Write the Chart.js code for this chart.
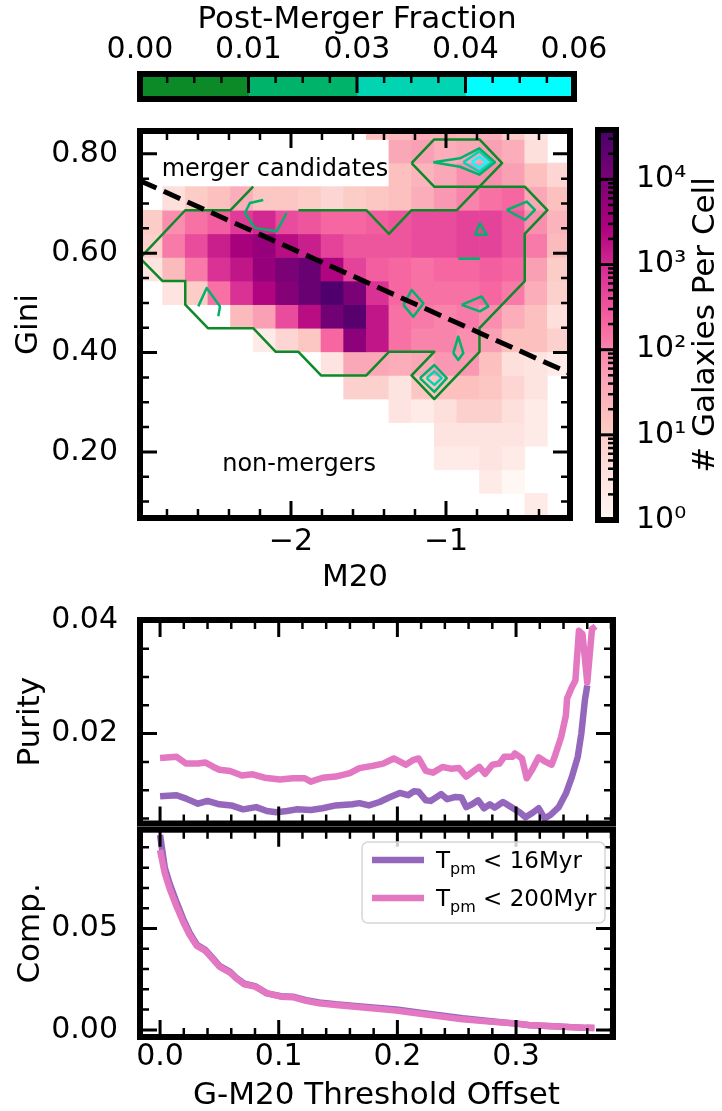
<!DOCTYPE html>
<html>
<head>
<meta charset="utf-8">
<script src="https://cdn.jsdelivr.net/npm/chart.js@4.4.1/dist/chart.umd.min.js"></script>
<style>
  body { margin: 0; background: #fff; }
  #fig { position: relative; width: 722px; height: 1111px; }
  #fig canvas { position: absolute; left: 0; top: 0; }
</style>
</head>
<body>
<div id="fig">
  <canvas id="fracBar" width="722" height="1111"></canvas>
  <canvas id="hist" width="722" height="1111"></canvas>
  <canvas id="countBar" width="722" height="1111"></canvas>
  <canvas id="purity" width="722" height="1111"></canvas>
  <canvas id="comp" width="722" height="1111"></canvas>
</div>
<script>
// ---------- data ----------
// post-merger fraction colour levels (top colourbar / contour levels)
const fracEdges = [0, 0.015, 0.03, 0.045, 0.06];
const fracColors = ['#0b8a27', '#00b36a', '#00d4b2', '#00ffff'];
const fracTicks = [0, 0.015, 0.03, 0.045, 0.06];
const fracTickLabels = ['0.00', '0.01', '0.03', '0.04', '0.06'];

// 2d histogram bins
const m20Edges = [-2.974, -2.828, -2.682, -2.536, -2.390, -2.244, -2.098, -1.952, -1.806, -1.660,
  -1.514, -1.368, -1.222, -1.076, -0.930, -0.784, -0.638, -0.492, -0.346, -0.200];
const giniEdges = [0.069, 0.1165, 0.164, 0.2115, 0.259, 0.3065, 0.354, 0.4015, 0.449, 0.4965,
  0.544, 0.5915, 0.639, 0.6865, 0.734, 0.7815, 0.829, 0.8765];
// galaxies per cell, rows from the top (high Gini) down
const counts = [
  [0, 0, 0, 0, 0, 0, 0, 0, 0, 0, 16, 20, 32, 32, 25, 32, 10, 3, 0],
  [0, 0, 0, 0, 0, 0, 0, 0, 0, 0, 0, 40, 50, 32, 40, 50, 32, 4, 0],
  [0, 0, 0, 0, 0, 0, 0, 0, 0, 0, 0, 16, 25, 40, 79, 79, 50, 16, 6],
  [0, 4, 10, 16, 32, 13, 13, 10, 6, 10, 13, 16, 32, 63, 100, 158, 200, 40, 16],
  [10, 79, 158, 251, 631, 1000, 398, 316, 200, 200, 251, 316, 398, 398, 501, 501, 316, 79, 25],
  [8, 126, 398, 1259, 3162, 5012, 1995, 1259, 501, 316, 316, 316, 398, 398, 501, 501, 316, 126, 20],
  [3, 20, 126, 794, 1585, 5012, 10000, 15849, 2512, 501, 251, 200, 158, 200, 200, 251, 200, 50, 10],
  [0, 3, 10, 158, 794, 2512, 7943, 15849, 31623, 10000, 794, 200, 158, 158, 158, 200, 126, 32, 8],
  [0, 0, 0, 0, 20, 50, 398, 1995, 12589, 25119, 1585, 158, 126, 100, 126, 79, 32, 16, 4],
  [0, 0, 0, 0, 0, 2, 6, 13, 200, 6310, 1585, 158, 100, 100, 79, 50, 16, 16, 8],
  [0, 0, 0, 0, 0, 0, 0, 0, 3, 40, 40, 32, 40, 63, 63, 16, 4, 3, 2],
  [0, 0, 0, 0, 0, 0, 0, 0, 0, 8, 8, 3, 13, 16, 16, 13, 6, 3, 0],
  [0, 0, 0, 0, 0, 0, 0, 0, 0, 0, 0, 3, 2, 4, 8, 8, 4, 2, 0],
  [0, 0, 0, 0, 0, 0, 0, 0, 0, 0, 0, 0, 0, 3, 3, 3, 3, 2, 0],
  [0, 0, 0, 0, 0, 0, 0, 0, 0, 0, 0, 0, 0, 2, 2, 3, 2, 0, 0],
  [0, 0, 0, 0, 0, 0, 0, 0, 0, 0, 0, 0, 0, 0, 0, 2, 1, 0, 0],
  [0, 0, 0, 0, 0, 0, 0, 0, 0, 0, 0, 0, 0, 0, 0, 0, 0, 2, 0]
];
const countMax = 38000;

// post-merger fraction contours [M20, Gini], by level
const contourLow = [
  [[-2.244, 0.734], [-2.390, 0.6865], [-2.682, 0.6865], [-2.974, 0.590], [-2.828, 0.544], [-2.682, 0.544],
   [-2.682, 0.4965], [-2.536, 0.449], [-2.244, 0.449], [-2.098, 0.4015], [-1.952, 0.4015], [-1.806, 0.354],
   [-1.514, 0.354], [-1.368, 0.4015], [-1.076, 0.4015], [-1.222, 0.354], [-1.076, 0.3065], [-0.784, 0.4015],
   [-0.784, 0.449], [-0.492, 0.544], [-0.492, 0.639], [-0.346, 0.6865], [-0.492, 0.734], [-0.784, 0.734],
   [-0.930, 0.6865], [-1.222, 0.6865], [-1.368, 0.639], [-1.514, 0.6865], [-1.952, 0.6865]],
  [[-1.222, 0.7815], [-1.076, 0.829], [-0.784, 0.829], [-0.638, 0.7815], [-0.784, 0.734], [-1.076, 0.734], [-1.222, 0.7815]]
];
const contourMid = [
  [[-1.082, 0.783], [-0.910, 0.791], [-0.785, 0.811], [-0.684, 0.783], [-0.785, 0.758], [-0.910, 0.774], [-1.082, 0.783]],
  [[-2.179, 0.707], [-2.265, 0.701], [-2.297, 0.681], [-2.232, 0.651], [-2.092, 0.644], [-2.028, 0.681]],
  [[-0.608, 0.687], [-0.479, 0.704], [-0.426, 0.687], [-0.490, 0.667], [-0.608, 0.687]],
  [[-0.813, 0.637], [-0.781, 0.660], [-0.737, 0.637], [-0.813, 0.637]],
  [[-0.921, 0.589], [-0.781, 0.589]],
  [[-1.275, 0.496], [-1.221, 0.526], [-1.146, 0.499], [-1.211, 0.472], [-1.275, 0.496]],
  [[-0.899, 0.496], [-0.770, 0.513], [-0.727, 0.493], [-0.781, 0.483], [-0.899, 0.496]],
  [[-0.953, 0.399], [-0.921, 0.432], [-0.888, 0.399], [-0.921, 0.385], [-0.953, 0.399]],
  [[-2.598, 0.493], [-2.544, 0.530], [-2.458, 0.493], [-2.469, 0.473]],
  [[-1.168, 0.3485], [-1.075, 0.375], [-0.995, 0.3485], [-1.075, 0.321], [-1.168, 0.3485]]
];
const contourHigh = [
  [[-0.888, 0.783], [-0.785, 0.805], [-0.705, 0.783], [-0.785, 0.764], [-0.888, 0.783]],
  [[-1.125, 0.3485], [-1.075, 0.362], [-1.028, 0.3485], [-1.075, 0.335], [-1.125, 0.3485]]
];
const contourTop = [
  [[-0.834, 0.783], [-0.785, 0.794], [-0.737, 0.783], [-0.785, 0.772], [-0.834, 0.783]]
];
// G-M20 merger line end points
const mergerLine = [[-2.974, 0.746], [-0.200, 0.358]];

const m20Ticks = [-2, -1];
const m20TickLabels = ['\u22122', '\u22121'];
const giniTicks = [0.2, 0.4, 0.6, 0.8];
const giniTickLabels = ['0.20', '0.40', '0.60', '0.80'];
const countTicks = [1, 10, 100, 1000, 10000];
const countTickLabels = ['10\u2070', '10\u00b9', '10\u00b2', '10\u00b3', '10\u2074'];

// purity / completeness vs threshold offset
const purity16X = [0.000, 0.014, 0.022, 0.032, 0.040, 0.050, 0.060, 0.070, 0.081, 0.090, 0.098, 0.107, 0.115,
  0.127, 0.137, 0.148, 0.162, 0.168, 0.176, 0.185, 0.193, 0.202, 0.209, 0.214, 0.218, 0.224, 0.228, 0.237,
  0.242, 0.249, 0.254, 0.258, 0.263, 0.268, 0.273, 0.278, 0.282, 0.289, 0.296, 0.303, 0.308, 0.314, 0.319,
  0.324, 0.329, 0.336, 0.342, 0.347, 0.352, 0.355, 0.358, 0.360];
const purity16 = [0.0089, 0.0091, 0.0085, 0.0076, 0.0081, 0.0075, 0.0073, 0.0066, 0.0070, 0.0063, 0.0061, 0.0063,
  0.0066, 0.0065, 0.0068, 0.0073, 0.0075, 0.0077, 0.0073, 0.0079, 0.0087, 0.0095, 0.0091, 0.0098, 0.0097,
  0.0082, 0.0081, 0.0093, 0.0084, 0.0088, 0.0087, 0.0070, 0.0075, 0.0082, 0.0068, 0.0075, 0.0069, 0.0079,
  0.0070, 0.0061, 0.0052, 0.0060, 0.0068, 0.0050, 0.0056, 0.0070, 0.0094, 0.0123, 0.0159, 0.0200, 0.0259, 0.0285];
const purity200X = [0.000, 0.014, 0.022, 0.032, 0.038, 0.045, 0.050, 0.059, 0.069, 0.078, 0.088, 0.101, 0.112,
  0.122, 0.127, 0.137, 0.148, 0.160, 0.168, 0.179, 0.188, 0.197, 0.207, 0.213, 0.218, 0.224, 0.230, 0.238,
  0.245, 0.252, 0.258, 0.263, 0.269, 0.274, 0.280, 0.286, 0.290, 0.297, 0.299, 0.305, 0.309, 0.314, 0.319,
  0.325, 0.330, 0.333, 0.338, 0.342, 0.343, 0.347, 0.350, 0.353, 0.356, 0.360, 0.364, 0.367];
const purity200 = [0.0157, 0.0159, 0.0147, 0.0147, 0.0149, 0.0141, 0.0136, 0.0134, 0.0126, 0.0128, 0.0122, 0.0119,
  0.0121, 0.0121, 0.0115, 0.0122, 0.0124, 0.0130, 0.0139, 0.0143, 0.0147, 0.0156, 0.0145, 0.0153, 0.0156,
  0.0134, 0.0131, 0.0141, 0.0138, 0.0139, 0.0124, 0.0132, 0.0141, 0.0129, 0.0145, 0.0147, 0.0159, 0.0159,
  0.0165, 0.0156, 0.0121, 0.0138, 0.0158, 0.0150, 0.0145, 0.0162, 0.0194, 0.0232, 0.0262, 0.0282, 0.0294,
  0.0382, 0.0376, 0.0290, 0.0385, 0.0390];
const comp16X = [0.000, 0.004, 0.008, 0.014, 0.020, 0.025, 0.031, 0.038, 0.045, 0.050, 0.059, 0.064, 0.071,
  0.080, 0.090, 0.102, 0.112, 0.123, 0.134, 0.148, 0.162, 0.199, 0.224, 0.255, 0.275, 0.300, 0.311, 0.331,
  0.359, 0.366];
const comp16 = [0.0961, 0.0800, 0.0722, 0.0628, 0.0540, 0.0478, 0.0420, 0.0395, 0.0350, 0.0316, 0.0286, 0.0258,
  0.0228, 0.0216, 0.0180, 0.0166, 0.0164, 0.0147, 0.0135, 0.0126, 0.0119, 0.0101, 0.0081, 0.0057, 0.0045,
  0.0031, 0.0023, 0.0018, 0.0010, 0.0009];
const comp200X = [0.000, 0.004, 0.008, 0.014, 0.020, 0.025, 0.031, 0.038, 0.045, 0.050, 0.059, 0.064, 0.071,
  0.080, 0.090, 0.102, 0.112, 0.123, 0.134, 0.148, 0.162, 0.199, 0.224, 0.255, 0.275, 0.300, 0.311, 0.331,
  0.359, 0.366];
const comp200 = [0.0887, 0.0772, 0.0698, 0.0607, 0.0526, 0.0468, 0.0414, 0.0391, 0.0345, 0.0312, 0.0282, 0.0255,
  0.0225, 0.0213, 0.0181, 0.0164, 0.0161, 0.0143, 0.0131, 0.0123, 0.0115, 0.0095, 0.0076, 0.0052, 0.0042,
  0.0032, 0.0024, 0.0018, 0.0010, 0.0009];
const seriesNames = ['16Myr', '200Myr'];

const offsetTicks = [0, 0.1, 0.2, 0.3];
const offsetTickLabels = ['0.0', '0.1', '0.2', '0.3'];
const purityTicks = [0.02, 0.04];
const purityTickLabels = ['0.02', '0.04'];
const compTicks = [0, 0.05];
const compTickLabels = ['0.00', '0.05'];

// ---------- helpers ----------
const purple = '#9467bd', pink = '#e377c2';
const FONT = 'DejaVu Sans';
const tickFont = { family: FONT, size: 30, lineHeight: 1 };
const labelFont = { family: FONT, size: 31, lineHeight: 1 };
Chart.defaults.font.family = FONT;
Chart.defaults.color = '#000';

const rdpu = ['#fff7f3', '#fde0dd', '#fcc5c0', '#fa9fb5', '#f768a1', '#dd3497', '#ae017e', '#7a0177', '#49006a']
  .map(h => [1, 3, 5].map(i => parseInt(h.substr(i, 2), 16)));
function cmap(t) {
  t = Math.min(1, Math.max(0, t)) * (rdpu.length - 1);
  const i = Math.min(rdpu.length - 2, Math.floor(t)), f = t - i;
  const c = rdpu[i].map((v, k) => Math.round(v + (rdpu[i + 1][k] - v) * f));
  return `rgb(${c[0]},${c[1]},${c[2]})`;
}
const countColor = n => cmap(Math.log10(n) / Math.log10(countMax));

function range(a, b, step, skip) {
  const out = [];
  for (let v = a; v <= b + 1e-9; v += step) {
    const r = Math.round(v * 1e6) / 1e6;
    if (!skip || !skip.some(s => Math.abs(s - r) < 1e-9)) out.push(r);
  }
  return out;
}

function axis(o) {
  const cfg = {
    type: o.type || 'linear',
    position: o.position,
    min: o.min, max: o.max,
    offset: false,
    grid: { display: false, drawTicks: false },
    border: { display: false },
    afterBuildTicks: s => { s.ticks = o.values.map(v => ({ value: v })); },
    ticks: { autoSkip: false, maxRotation: 0, minRotation: 0, font: tickFont, color: '#000',
      padding: o.pad, callback: (v, i) => o.labels[i] }
  };
  if (o.fit) cfg.afterFit = s => { if (s.isHorizontal()) s.height = o.fit; else s.width = o.fit; };
  if (o.title) cfg.title = { display: true, text: o.title, font: labelFont, color: '#000', padding: o.titlePad };
  return cfg;
}

// matplotlib-like frame with inward ticks
const framePlugin = {
  id: 'frame',
  afterDatasetsDraw(chart, args, o) {
    if (!o || !o.show) return;
    const { ctx, chartArea: a } = chart;
    ctx.save();
    ctx.strokeStyle = '#000';
    ctx.lineCap = 'butt';
    const marks = (scale, spec) => {
      if (!spec) return;
      [['major', spec.majorLen || 17, 3], ['minor', spec.minorLen || 9, 2.5]].forEach(([k, len, w]) => {
        ctx.lineWidth = w;
        (spec[k] || []).forEach(v => {
          const p = scale.getPixelForValue(v);
          ctx.beginPath();
          spec.sides.forEach(s => {
            if (s === 'bottom') { ctx.moveTo(p, a.bottom); ctx.lineTo(p, a.bottom - len); }
            if (s === 'top') { ctx.moveTo(p, a.top); ctx.lineTo(p, a.top + len); }
            if (s === 'left') { ctx.moveTo(a.left, p); ctx.lineTo(a.left + len, p); }
            if (s === 'right') { ctx.moveTo(a.right, p); ctx.lineTo(a.right - len, p); }
          });
          ctx.stroke();
        });
      });
    };
    marks(chart.scales.x, o.x);
    marks(chart.scales.y, o.y);
    ctx.lineWidth = 6;
    ctx.strokeRect(a.left, a.top, a.right - a.left, a.bottom - a.top);
    ctx.restore();
  }
};

// free text (annotations, colourbar label)
const notesPlugin = {
  id: 'notes',
  afterDraw(chart, args, o) {
    if (!o || !o.items) return;
    const ctx = chart.ctx;
    o.items.forEach(it => {
      const p = it.data
        ? [chart.scales.x.getPixelForValue(it.data[0]), chart.scales.y.getPixelForValue(it.data[1])]
        : it.px;
      ctx.save();
      ctx.translate(p[0], p[1]);
      if (it.rotate) ctx.rotate(it.rotate);
      ctx.font = it.font;
      ctx.fillStyle = '#000';
      ctx.textAlign = 'center';
      ctx.textBaseline = 'middle';
      ctx.fillText(it.text, 0, 0);
      ctx.restore();
    });
  }
};

// legend with subscripts
const keyPlugin = {
  id: 'key',
  afterDraw(chart, args, o) {
    if (!o || !o.box) return;
    const ctx = chart.ctx;
    const [bx, by, bw, bh] = o.box;
    ctx.save();
    ctx.beginPath();
    ctx.roundRect(bx, by, bw, bh, 6);
    ctx.fillStyle = 'rgba(255,255,255,0.8)';
    ctx.fill();
    ctx.strokeStyle = '#d6d6d6';
    ctx.lineWidth = 1.5;
    ctx.stroke();
    o.entries.forEach((e, i) => {
      const ds = chart.data.datasets[e.dataset];
      const y = by + o.first + i * o.step;
      ctx.strokeStyle = ds.borderColor;
      ctx.lineWidth = ds.borderWidth;
      ctx.beginPath();
      ctx.moveTo(bx + o.handle[0], y);
      ctx.lineTo(bx + o.handle[1], y);
      ctx.stroke();
      ctx.fillStyle = '#000';
      ctx.textBaseline = 'alphabetic';
      let x = bx + o.textX;
      const base = y + o.base;
      ctx.font = o.font;
      ctx.fillText('T', x, base);
      x += ctx.measureText('T').width;
      ctx.font = o.subFont;
      ctx.fillText('pm', x, base + o.subShift);
      x += ctx.measureText('pm').width;
      ctx.font = o.font;
      ctx.fillText(' < ' + e.text, x, base);
    });
    ctx.restore();
  }
};
Chart.register(framePlugin, notesPlugin, keyPlugin);

const common = { responsive: false, devicePixelRatio: 1, animation: false };
const quiet = { legend: { display: false }, tooltip: { enabled: false } };

// ---------- top colourbar: post-merger fraction ----------
new Chart(document.getElementById('fracBar'), {
  type: 'bar',
  data: {
    labels: ['f'],
    datasets: fracColors.map((c, i) => ({
      data: [[fracEdges[i], fracEdges[i + 1]]], backgroundColor: c, borderWidth: 0,
      barPercentage: 1, categoryPercentage: 1, grouped: false
    }))
  },
  options: {
    ...common,
    indexAxis: 'y',
    layout: { padding: { left: 140, top: 0, right: 148, bottom: 1012 } },
    plugins: {
      ...quiet,
      frame: { show: true, x: { sides: ['top'], major: fracTicks, minor: range(0, 0.06, 0.00375, fracTicks), majorLen: 19, minorLen: 9 } }
    },
    scales: {
      x: axis({ position: 'top', min: 0, max: 0.06, values: fracTicks, labels: fracTickLabels, pad: 9, fit: 74,
        title: 'Post-Merger Fraction', titlePad: { top: 4.5, bottom: 0 } }),
      y: { display: false }
    }
  }
});

// ---------- 2d histogram with contours ----------
const cellSets = counts.map((row, r) => {
  const j = counts.length - 1 - r;
  const pts = [], cols = [];
  row.forEach((n, c) => {
    if (!n) return;
    pts.push({ x: (m20Edges[c] + m20Edges[c + 1]) / 2, y: [giniEdges[j], giniEdges[j + 1]] });
    cols.push(countColor(n));
  });
  return { type: 'bar', data: pts, backgroundColor: cols, borderWidth: 0,
    barPercentage: 1, categoryPercentage: 1, grouped: false, order: 3 };
});
const lineSet = (pts, color, width, order, dash) => ({
  type: 'line', data: pts.map(p => ({ x: p[0], y: p[1] })), borderColor: color, borderWidth: width,
  borderDash: dash || [], pointRadius: 0, fill: false, tension: 0, order,
  borderJoinStyle: 'round', borderCapStyle: 'butt'
});
const contourSets = [
  ...contourLow.map(c => lineSet(c, fracColors[0], 2.5, 2)),
  ...contourMid.map(c => lineSet(c, fracColors[1], 2.5, 2)),
  ...contourHigh.map(c => lineSet(c, fracColors[2], 2.5, 2)),
  ...contourTop.map(c => lineSet(c, fracColors[3], 2.5, 2))
];

new Chart(document.getElementById('hist'), {
  type: 'bar',
  data: { datasets: [...cellSets, ...contourSets, lineSet(mergerLine, '#000', 5, 1, [18, 8])] },
  options: {
    ...common,
    layout: { padding: { left: 0, top: 131, right: 152, bottom: 513 } },
    plugins: {
      ...quiet,
      frame: {
        show: true,
        x: { sides: ['bottom', 'top'], major: m20Ticks, minor: range(-2.8, -0.2, 0.2, m20Ticks) },
        y: { sides: ['left', 'right'], major: giniTicks, minor: range(0.1, 0.8, 0.05, giniTicks) }
      },
      notes: { items: [
        { text: 'merger candidates', data: [-2.103, 0.768], font: `24px ${FONT}` },
        { text: 'non-mergers', data: [-1.948, 0.174], font: `24px ${FONT}` }
      ] }
    },
    scales: {
      x: axis({ position: 'bottom', min: m20Edges[0], max: m20Edges[m20Edges.length - 1], values: m20Ticks,
        labels: m20TickLabels, pad: 9, fit: 80, title: 'M20', titlePad: { top: 0, bottom: 5 } }),
      y: { ...axis({ position: 'left', min: 0.067, max: 0.846, values: giniTicks, labels: giniTickLabels,
        pad: 22, fit: 140, title: 'Gini', titlePad: { top: 13.5, bottom: 0 } }), beginAtZero: false }
    }
  }
});

// ---------- right colourbar: galaxies per cell ----------
new Chart(document.getElementById('countBar'), {
  type: 'bar',
  data: {
    labels: ['n'],
    datasets: [{
      data: [[1, countMax]], borderWidth: 0, barPercentage: 1, categoryPercentage: 1,
      backgroundColor: ctx => {
        const ch = ctx.chart;
        if (!ch.chartArea) return '#fff';
        const y = ch.scales.y;
        const g = ch.ctx.createLinearGradient(0, y.getPixelForValue(1), 0, y.getPixelForValue(countMax));
        for (let i = 0; i <= 40; i++) g.addColorStop(i / 40, cmap(i / 40));
        return g;
      }
    }]
  },
  options: {
    ...common,
    layout: { padding: { left: 598, top: 130, right: 6, bottom: 591 } },
    plugins: {
      ...quiet,
      frame: { show: true, y: { sides: ['right'], major: countTicks, majorLen: 20, minorLen: 8,
        minor: [0, 1, 2, 3, 4].flatMap(e => [2, 3, 4, 5, 6, 7, 8, 9].map(k => k * Math.pow(10, e))).filter(v => v < countMax) } },
      notes: { items: [{ text: '# Galaxies Per Cell', px: [706, 325], rotate: -Math.PI / 2, font: `31px ${FONT}` }] }
    },
    scales: {
      x: { display: false },
      y: axis({ type: 'logarithmic', position: 'right', min: 1, max: countMax, values: countTicks,
        labels: countTickLabels, pad: 20, fit: 100 })
    }
  }
});

// ---------- purity ----------
const seriesSet = (xs, ys, color, order) => ({
  data: xs.map((x, i) => ({ x, y: ys[i] })), borderColor: color, backgroundColor: color, borderWidth: 6.5,
  showLine: true, pointRadius: 0, tension: 0, order, borderJoinStyle: 'round', borderCapStyle: 'butt'
});
const offsetRange = { min: -0.0169, max: 0.3817 };

new Chart(document.getElementById('purity'), {
  type: 'scatter',
  data: { datasets: [seriesSet(purity16X, purity16, purple, 1), seriesSet(purity200X, purity200, pink, 0)] },
  options: {
    ...common,
    layout: { padding: { left: 0, top: 620, right: 109, bottom: 287.5 } },
    plugins: {
      ...quiet,
      frame: {
        show: true,
        x: { sides: ['bottom', 'top'], major: offsetTicks, minor: range(0.02, 0.38, 0.02, offsetTicks) },
        y: { sides: ['left', 'right'], major: purityTicks, minor: range(0.005, 0.035, 0.005, purityTicks) }
      }
    },
    scales: {
      x: { type: 'linear', display: false, ...offsetRange },
      y: axis({ position: 'left', min: 0.0041, max: 0.0401, values: purityTicks, labels: purityTickLabels,
        pad: 22, fit: 140, title: 'Purity', titlePad: { top: 15.5, bottom: 0 } })
    }
  }
});

// ---------- completeness ----------
new Chart(document.getElementById('comp'), {
  type: 'scatter',
  data: { datasets: [seriesSet(comp16X, comp16, purple, 1), seriesSet(comp200X, comp200, pink, 0)] },
  options: {
    ...common,
    layout: { padding: { left: 0, top: 829.7, right: 109, bottom: 0 } },
    plugins: {
      ...quiet,
      frame: {
        show: true,
        x: { sides: ['bottom', 'top'], major: offsetTicks, minor: range(0.02, 0.38, 0.02, offsetTicks) },
        y: { sides: ['left', 'right'], major: compTicks, minor: range(0.01, 0.09, 0.01, compTicks) }
      },
      key: {
        box: [362, 842, 243, 81], first: 18, step: 38, handle: [10, 62], textX: 74, base: 8, subShift: 6,
        font: `23px ${FONT}`, subFont: `16px ${FONT}`,
        entries: [{ dataset: 0, text: seriesNames[0] }, { dataset: 1, text: seriesNames[1] }]
      }
    },
    scales: {
      x: axis({ position: 'bottom', ...offsetRange, values: offsetTicks, labels: offsetTickLabels, pad: 5.5,
        fit: 74, title: 'G-M20 Threshold Offset', titlePad: { top: 0, bottom: 0 } }),
      y: axis({ position: 'left', min: -0.0035, max: 0.0987, values: compTicks, labels: compTickLabels,
        pad: 22, fit: 140, title: 'Comp.', titlePad: { top: 15.5, bottom: 0 } })
    }
  }
});
</script>
</body>
</html>
